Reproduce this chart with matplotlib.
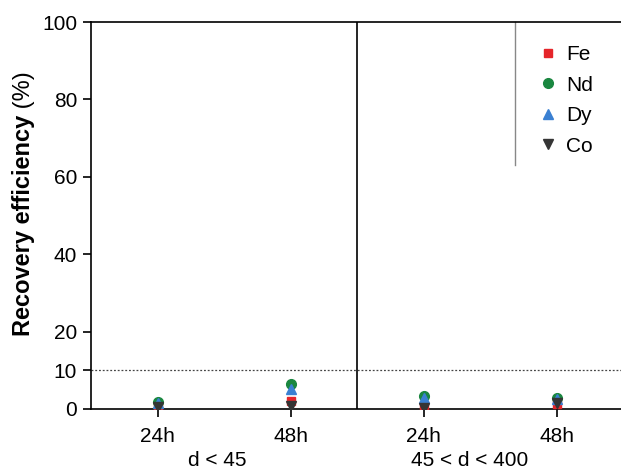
import numpy as np
import matplotlib.pyplot as plt

plt.rcParams['font.family'] = ['Liberation Sans', 'DejaVu Sans']

positions = [1, 2, 3, 4]
tick_labels = ['24h', '48h', '24h', '48h']
groups = ['d < 45', '45 < d < 400']

fe = [0.8, 2.1, 0.8, 1.3]
nd = [1.9, 6.5, 3.4, 2.8]
dy = [1.5, 5.1, 2.8, 2.5]
co = [0.5, 0.8, 0.3, 1.6]

fig = plt.figure(figsize=(6.21, 4.70), dpi=100)
ax = fig.add_axes([91 / 621, 61 / 470, 532 / 621, 387 / 470])

ax.plot(positions, fe, 's', color='#e5252a', ms=6, label='Fe', zorder=3)
ax.plot(positions, nd, 'o', color='#1a8740', ms=7, label='Nd', zorder=3)
ax.plot(positions, dy, '^', color='#3a80d2', ms=7, label='Dy', zorder=3)
ax.plot(positions, co, 'v', color='#353535', ms=7, label='Co', zorder=3)

ax.axhline(10, color='#444444', lw=0.9, ls=(0, (1.5, 1.5)), zorder=1)
ax.axvline(2.5, color='black', lw=1.2)

ax.set_xlim(0.5, 4.5)
ax.set_ylim(0, 100)
ax.set_yticks([0, 10, 20, 40, 60, 80, 100])
ax.set_xticks(positions)
ax.set_xticklabels(tick_labels)
ax.tick_params(direction='out', length=6, width=1.2, labelsize=15, pad=4)
ax.tick_params(axis='x', pad=7)
for s in ax.spines.values():
    s.set_linewidth(1.2)

ax.text(1.45, -0.108, groups[0], transform=ax.get_xaxis_transform(),
        ha='center', va='top', fontsize=15)
ax.text(3.35, -0.108, groups[1], transform=ax.get_xaxis_transform(),
        ha='center', va='top', fontsize=15)

t1 = fig.text(24 / 621, 0.52, 'Recovery efficiency', rotation=90,
              ha='center', va='center', fontsize=17, fontweight='bold')
ax.annotate(' (%)', xy=(0.5, 1), xycoords=t1, rotation=90,
            ha='center', va='bottom', fontsize=17)

leg = ax.legend(loc='upper left', bbox_to_anchor=(0.835, 0.94), frameon=False,
                fontsize=15, handletextpad=0.3, labelspacing=0.55,
                handlelength=1.2, borderaxespad=0, borderpad=0)
ax.plot([0.797, 0.797], [0.63, 1.0], transform=ax.transAxes,
        color='#888888', lw=1, clip_on=False)

fig.savefig('out.png', dpi=100)
